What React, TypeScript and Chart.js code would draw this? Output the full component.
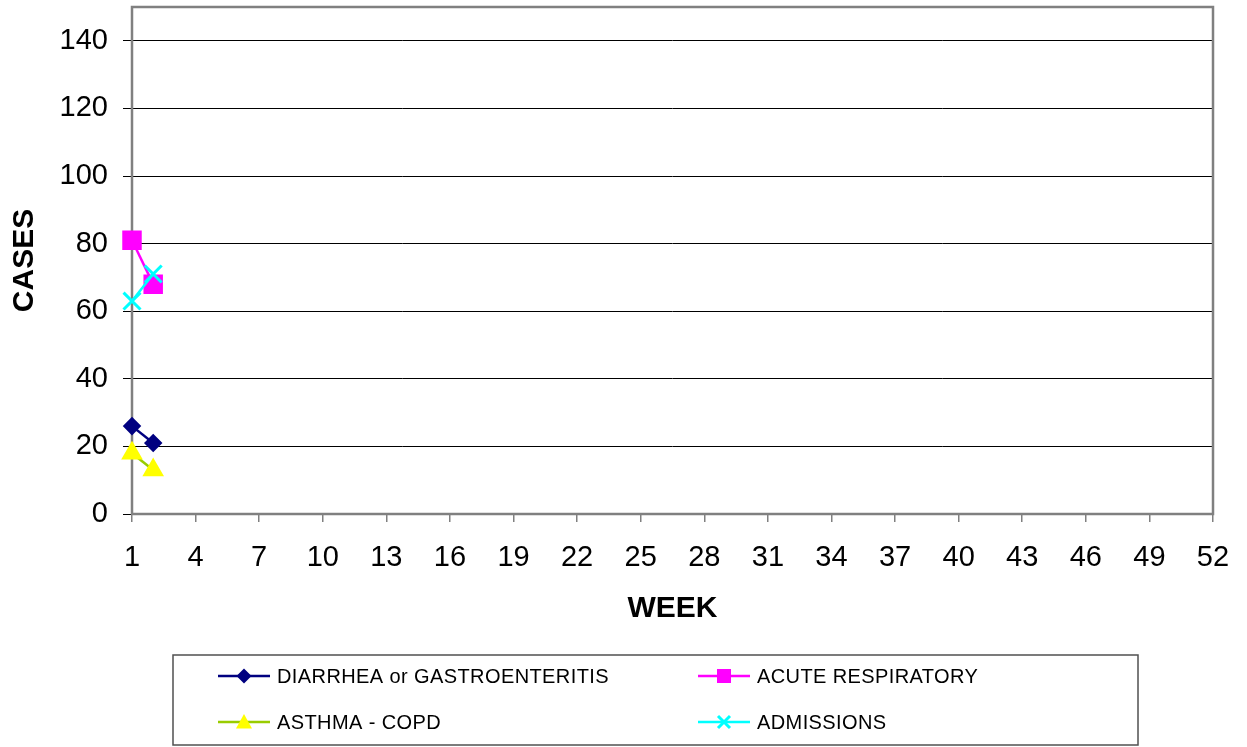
import React, { useEffect, useRef } from "react";
import { Chart, registerables } from "chart.js";

Chart.register(...registerables);

const WEEKS = [1, 2];
const DIARRHEA = [26, 21];
const ACUTE_RESP = [81, 68];
const ASTHMA = [18, 13];
const ADMISSIONS = [63, 71];
const X_TICKS = [1, 4, 7, 10, 13, 16, 19, 22, 25, 28, 31, 34, 37, 40, 43, 46, 49, 52];
const Y_TICKS = [0, 20, 40, 60, 80, 100, 120, 140];
const SERIES_NAMES = ["DIARRHEA or GASTROENTERITIS", "ACUTE RESPIRATORY", "ASTHMA - COPD", "ADMISSIONS"];

const FONT = "'Liberation Sans', Arial, sans-serif";

const toPoints = (vals: number[]) => WEEKS.map((w, i) => ({ x: w, y: vals[i] }));

function drawMarker(ctx: CanvasRenderingContext2D, style: string, x: number, y: number, r: number, fill: string, stroke: string) {
  ctx.save();
  ctx.fillStyle = fill;
  ctx.strokeStyle = stroke;
  ctx.beginPath();
  if (style === "rectRot") {
    ctx.moveTo(x, y - r);
    ctx.lineTo(x + r, y);
    ctx.lineTo(x, y + r);
    ctx.lineTo(x - r, y);
    ctx.closePath();
    ctx.fill();
  } else if (style === "rect") {
    ctx.rect(x - r, y - r, 2 * r, 2 * r);
    ctx.fill();
  } else if (style === "triangle") {
    ctx.moveTo(x, y - r);
    ctx.lineTo(x + r, y + r * 0.8);
    ctx.lineTo(x - r, y + r * 0.8);
    ctx.closePath();
    ctx.fill();
  } else if (style === "crossRot") {
    ctx.lineWidth = 3;
    ctx.moveTo(x - r, y - r);
    ctx.lineTo(x + r, y + r);
    ctx.moveTo(x + r, y - r);
    ctx.lineTo(x - r, y + r);
    ctx.stroke();
  }
  ctx.restore();
}

const frameAndLegend = {
  id: "frameAndLegend",
  beforeDatasetsDraw(chart: any) {
    const { ctx, chartArea } = chart;
    ctx.save();
    ctx.strokeStyle = "#808080";
    ctx.lineWidth = 2.5;
    ctx.strokeRect(chartArea.left, chartArea.top, chartArea.right - chartArea.left, chartArea.bottom - chartArea.top);
    ctx.restore();
  },
  afterDraw(chart: any) {
    const { ctx } = chart;
    ctx.save();
    ctx.strokeStyle = "#505050";
    ctx.lineWidth = 1.5;
    ctx.strokeRect(173, 655, 965, 90);
    const items = [
      { col: 0, row: 0, ds: 0, style: "rectRot", r: 7.5, fill: "#000080", line: "#000080" },
      { col: 1, row: 0, ds: 1, style: "rect", r: 7, fill: "#FF00FF", line: "#FF00FF" },
      { col: 0, row: 1, ds: 2, style: "triangle", r: 8, fill: "#FFFF00", line: "#99CC00" },
      { col: 1, row: 1, ds: 3, style: "crossRot", r: 6, fill: "#00FFFF", line: "#00FFFF" },
    ];
    const colX = [218, 698];
    const rowY = [676, 722];
    items.forEach((it) => {
      const x0 = colX[it.col];
      const y = rowY[it.row];
      ctx.strokeStyle = it.line;
      ctx.lineWidth = 2.5;
      ctx.beginPath();
      ctx.moveTo(x0, y);
      ctx.lineTo(x0 + 52, y);
      ctx.stroke();
      drawMarker(ctx, it.style, x0 + 26, y, it.r, it.fill, it.fill);
      ctx.fillStyle = "#000";
      ctx.font = `20px ${FONT}`;
      (ctx as any).letterSpacing = "0.4px";
      ctx.textBaseline = "middle";
      ctx.textAlign = "left";
      ctx.fillText(chart.data.datasets[it.ds].label, x0 + 59, y + 1);
      (ctx as any).letterSpacing = "0px";
    });
    ctx.restore();
  },
};

export default function App() {
  const canvasRef = useRef<HTMLCanvasElement | null>(null);

  useEffect(() => {
    if (!canvasRef.current) return;
    const chart = new Chart(canvasRef.current, {
      type: "line",
      data: {
        datasets: [
          {
            label: SERIES_NAMES[0],
            data: toPoints(DIARRHEA),
            borderColor: "#000080",
            backgroundColor: "#000080",
            pointBackgroundColor: "#000080",
            pointBorderColor: "#000080",
            pointStyle: "rectRot",
            pointRadius: 7.5,
            borderWidth: 2.5,
            order: 4,
            clip: false,
          },
          {
            label: SERIES_NAMES[1],
            data: toPoints(ACUTE_RESP),
            borderColor: "#FF00FF",
            backgroundColor: "#FF00FF",
            pointBackgroundColor: "#FF00FF",
            pointBorderColor: "#FF00FF",
            pointStyle: "rect",
            pointRadius: 12,
            borderWidth: 2.5,
            order: 3,
            clip: false,
          },
          {
            label: SERIES_NAMES[2],
            data: toPoints(ASTHMA),
            borderColor: "#99CC00",
            backgroundColor: "#FFFF00",
            pointBackgroundColor: "#FFFF00",
            pointBorderColor: "#FFFF00",
            pointStyle: "triangle",
            pointRadius: 10,
            borderWidth: 2.5,
            order: 2,
            clip: false,
          },
          {
            label: SERIES_NAMES[3],
            data: toPoints(ADMISSIONS),
            borderColor: "#00FFFF",
            backgroundColor: "#00FFFF",
            pointBackgroundColor: "#00FFFF",
            pointBorderColor: "#00FFFF",
            pointStyle: "crossRot",
            pointRadius: 12,
            pointBorderWidth: 3,
            borderWidth: 2.5,
            order: 1,
            clip: false,
          },
        ],
      },
      options: {
        animation: false,
        responsive: false,
        maintainAspectRatio: false,
        layout: { autoPadding: false, padding: { top: 7, right: 34, bottom: 113, left: 0 } },
        plugins: {
          legend: { display: false },
          tooltip: { enabled: false },
        },
        scales: {
          x: {
            type: "linear",
            min: 1,
            max: 52,
            afterBuildTicks: (scale: any) => {
              scale.ticks = X_TICKS.map((v) => ({ value: v }));
            },
            afterFit: (scale: any) => {
              scale.height = 120;
              scale.paddingLeft = 0;
              scale.paddingRight = 0;
            },
            grid: {
              drawOnChartArea: false,
              drawTicks: true,
              tickLength: 8,
              color: "#808080",
              lineWidth: 1.5,
            },
            border: { display: false },
            ticks: {
              autoSkip: false,
              maxRotation: 0,
              padding: 19,
              color: "#000",
              font: { family: FONT, size: 29 },
              callback: (v: any) => String(v),
            },
            title: {
              display: true,
              text: "WEEK",
              color: "#000",
              font: { family: FONT, size: 30, weight: "bold" },
              padding: { top: 0, bottom: 7 },
            },
          },
          y: {
            type: "linear",
            min: 0,
            max: 150,
            afterBuildTicks: (scale: any) => {
              scale.ticks = Y_TICKS.map((v) => ({ value: v }));
            },
            afterFit: (scale: any) => {
              scale.width = 132;
              scale.paddingTop = 0;
              scale.paddingBottom = 0;
            },
            grid: {
              drawTicks: true,
              tickLength: 9,
              color: "#000",
              lineWidth: 1,
            },
            border: { display: false },
            ticks: {
              padding: 15,
              color: "#000",
              font: { family: FONT, size: 29 },
              callback: (v: any) => String(v),
            },
            title: {
              display: true,
              text: "CASES",
              color: "#000",
              font: { family: FONT, size: 30, weight: "bold" },
              padding: { top: 7, bottom: 0 },
            },
          },
        },
      },
      plugins: [frameAndLegend],
    } as any);
    return () => chart.destroy();
  }, []);

  return (
    <div style={{ position: "absolute", left: 0, top: 0, width: 1247, height: 747, background: "#fff" }}>
      <canvas ref={canvasRef} width={1247} height={747} style={{ display: "block", width: 1247, height: 747 }} />
    </div>
  );
}
